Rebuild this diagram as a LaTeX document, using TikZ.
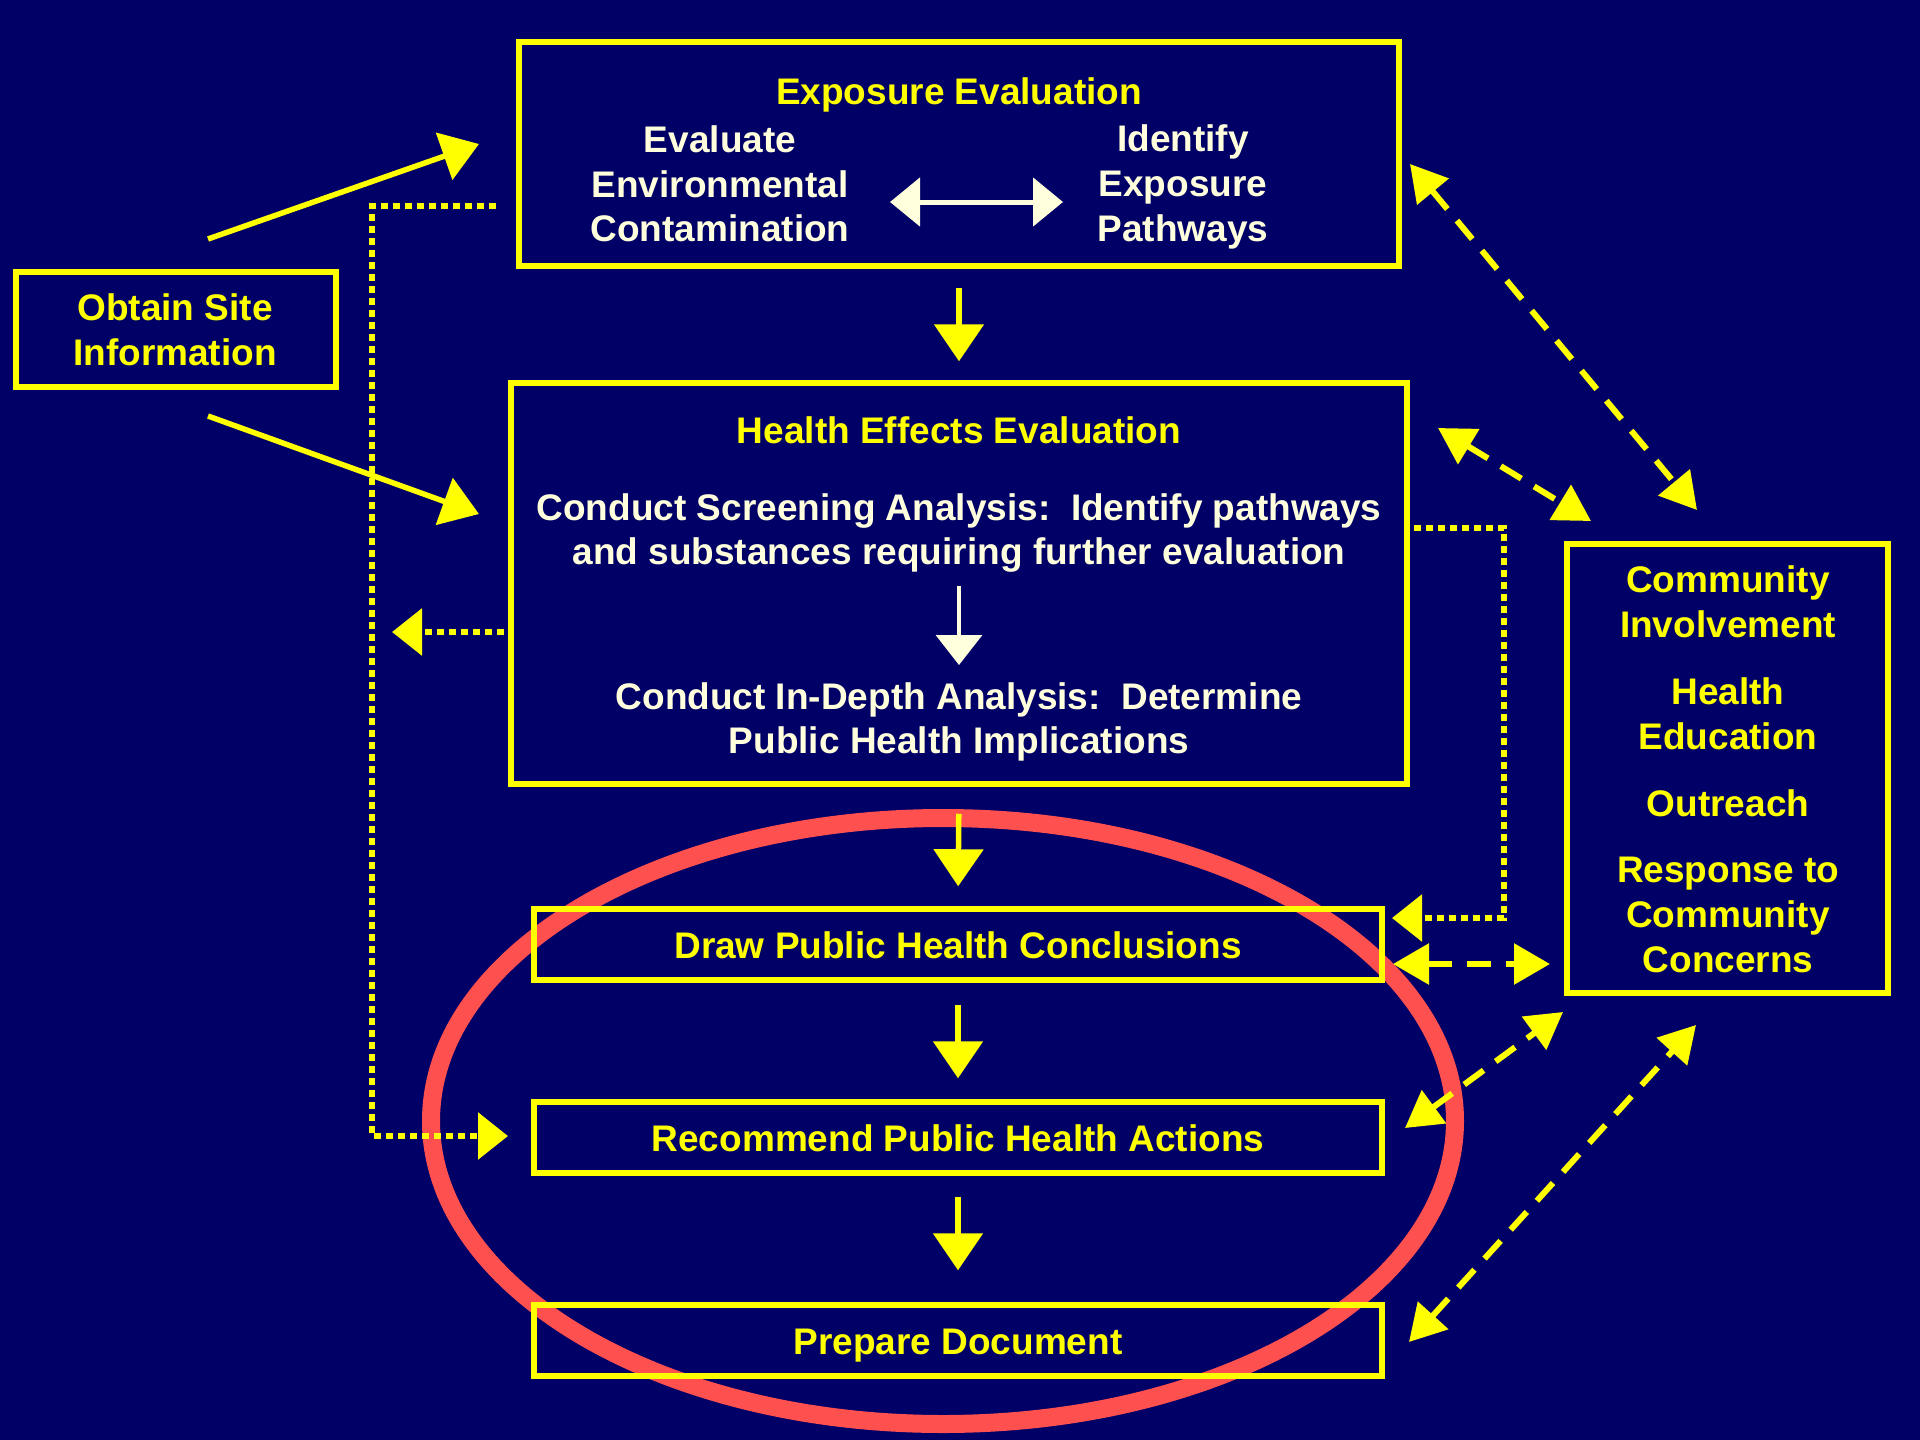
\documentclass[tikz,border=0pt]{standalone}
\usepackage{fontspec}
\setmainfont{Liberation Sans}
\usetikzlibrary{arrows.meta}
\definecolor{bg}{HTML}{000066}
\definecolor{ylw}{HTML}{FFFF00}
\definecolor{crm}{HTML}{FFFFDD}
\definecolor{redc}{HTML}{FF5050}
\begin{document}
\begin{tikzpicture}[x=1pt,y=-1pt,
  lbl/.style={font=\fontsize{37}{44.7}\selectfont\bfseries, align=center, inner sep=0pt},
  ytxt/.style={lbl, text=ylw},
  ctxt/.style={lbl, text=crm},
  box/.style={draw=ylw, line width=5.5pt, inner sep=0pt, text height=27pt, text depth=0pt,
     font=\fontsize{37}{44.7}\selectfont\bfseries, text=ylw},
  solidarr/.style={draw=ylw, line width=5.5pt, -{Triangle[length=37pt,width=49pt]}},
  dasharr/.style={draw=ylw, line width=6pt, dash pattern=on 24pt off 15pt,
     {Triangle[length=36pt,width=40pt]}-{Triangle[length=36pt,width=40pt]}},
  dotline/.style={draw=ylw, line width=6pt, dash pattern=on 7pt off 5pt},
  dotarr/.style={dotline, -{Triangle[length=30pt,width=46pt]}},
  inarr/.style={draw=crm, line width=5pt}
]
\fill[bg] (0,0) rectangle (1920,1440);
\useasboundingbox (0,0) rectangle (1920,1440);

% red ellipse
\draw[redc, line width=18pt] (943,1121) ellipse [x radius=512pt, y radius=303pt];

% boxes
\node[box, minimum width=880pt, minimum height=224pt] (expo) at (959,154) {};
\node[box, minimum width=896pt, minimum height=401pt] (health) at (959,583.5) {};
\node[box, minimum width=848pt, minimum height=71pt] (draw) at (958,944.5) {Draw Public Health Conclusions};
\node[box, minimum width=848pt, minimum height=71pt] (rec) at (958,1137.5) {Recommend Public Health Actions};
\node[box, minimum width=848pt, minimum height=71pt] (prep) at (958,1340.5) {Prepare Document};
\node[box, minimum width=320pt, minimum height=115pt] (obtain) at (176,329.5) {};
\node[box, minimum width=321pt, minimum height=449pt] (comm) at (1727.5,768.5) {};

% texts
\node[ytxt] (expotitle) at (959,95) {Exposure Evaluation};
\node[ctxt] (evalenv) at (720,184) {Evaluate\\Environmental\\Contamination};
\node[ctxt] (identify) at (1183,187) {Identify\\Exposure\\Pathways};
\node[ytxt] (healthtitle) at (959,430) {Health Effects Evaluation};
\node[ctxt] (screen) at (959,533) {Conduct Screening Analysis:\ \ Identify pathways\\and substances requiring further evaluation};
\node[ctxt] (indepth) at (959,722) {Conduct In-Depth Analysis:\ \ Determine\\Public Health Implications};
\node[ytxt] (obtaintxt) at (175,330) {Obtain Site\\Information};
\node[ytxt] (ci) at (1728,602) {Community\\Involvement};
\node[ytxt] (he) at (1728,714) {Health\\Education};
\node[ytxt] (out) at (1728,803) {Outreach};
\node[ytxt] (resp) at (1728,915) {Response to\\Community\\Concerns};

% inner arrows
\coordinate (ia1) at (890,202);
\coordinate (ia2) at (1063,202);
\draw[inarr, {Triangle[length=30pt,width=48pt]}-{Triangle[length=30pt,width=48pt]}] (ia1) -- (ia2);
\coordinate (ib1) at (959,586);
\coordinate (ib2) at (959,665);
\draw[inarr, line width=3.5pt, -{Triangle[length=30pt,width=46pt]}] (ib1) -- (ib2);

% main flow arrows
\draw[solidarr, shorten <=19pt, shorten >=19pt] (expo.south) -- (health.north);
\draw[solidarr, shorten <=27pt, shorten >=20pt] (health.south) -- (draw.north);
\draw[solidarr, shorten <=22pt, shorten >=21pt] (draw.south) -- (rec.north);
\draw[solidarr, shorten <=21pt, shorten >=32pt] (rec.south) -- (prep.north);

% from Obtain Site Information
\coordinate (o1) at (208,239);
\coordinate (o1t) at (479,144);
\coordinate (o2) at (208,416);
\coordinate (o2t) at (479,514);
\draw[solidarr] (o1) -- (o1t);
\draw[solidarr] (o2) -- (o2t);

% dotted feedback lines
\coordinate (d1s) at (496,206);
\coordinate (d1t) at (508,1136);
\draw[dotarr] (d1s) -- (372,206) -- (372,1136) -- (d1t);
\coordinate (d2s) at (504,632);
\coordinate (d2t) at (392,632);
\draw[dotarr] (d2s) -- (d2t);
\coordinate (d3s) at (1414,528);
\coordinate (d3t) at (1392,918);
\draw[dotarr] (d3s) -- (1504,528) -- (1504,918) -- (d3t);

% dashed two-way links with community box
\coordinate (e1a) at (1410,164);
\coordinate (e1b) at (1697,510);
\draw[dasharr] (e1a) -- (e1b);
\coordinate (e2a) at (1438,428);
\coordinate (e2b) at (1591,521);
\draw[dasharr] (e2a) -- (e2b);
\coordinate (e3a) at (1393,964);
\coordinate (e3b) at (1550,964);
\draw[dasharr] (e3a) -- (e3b);
\coordinate (e4a) at (1405,1128);
\coordinate (e4b) at (1563,1012);
\draw[dasharr] (e4a) -- (e4b);
\coordinate (e5a) at (1409,1342);
\coordinate (e5b) at (1696,1025);
\draw[dasharr] (e5a) -- (e5b);
\end{tikzpicture}
\end{document}
